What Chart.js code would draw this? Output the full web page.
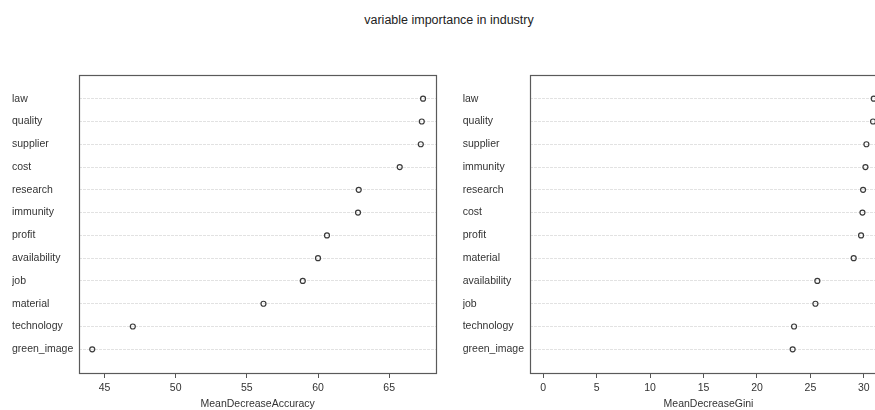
<!DOCTYPE html>
<html>
<head>
<meta charset="utf-8">
<script src="https://cdn.jsdelivr.net/npm/chart.js@4.4.1/dist/chart.umd.min.js"></script>
<style>
    html, body { margin: 0; padding: 0; background: #fff; overflow: hidden; width: 875px; height: 410px; }
    #title { position: absolute; left: 0; top: 13px; width: 898px; text-align: center; font: 12.5px "Liberation Sans", Arial, sans-serif; color: #222; line-height: 14px; }
    .panel { position: absolute; top: 0; height: 410px; }
    #left { left: 0; width: 440px; }
    #right { left: 440px; width: 460px; }
</style>
</head>
<body>
<div id="title">variable importance in industry</div>
<div class="panel" id="left"><canvas id="accChart"></canvas></div>
<div class="panel" id="right"><canvas id="giniChart"></canvas></div>
<script>
// left panel: MeanDecreaseAccuracy
const accVars = ['law', 'quality', 'supplier', 'cost', 'research', 'immunity', 'profit', 'availability', 'job', 'material', 'technology', 'green_image'];
const accValues = [67.38, 67.29, 67.22, 65.74, 62.86, 62.81, 60.63, 60.0, 58.93, 56.17, 46.99, 44.14];
const accTicks = [45, 50, 55, 60, 65];

// right panel: MeanDecreaseGini
const giniVars = ['law', 'quality', 'supplier', 'immunity', 'research', 'cost', 'profit', 'material', 'availability', 'job', 'technology', 'green_image'];
const giniValues = [30.93, 30.86, 30.24, 30.15, 29.93, 29.87, 29.74, 29.05, 25.65, 25.47, 23.47, 23.34];
const giniTicks = [0, 5, 10, 15, 20, 25, 30];

Chart.defaults.font.family = '"Liberation Sans", Arial, sans-serif';
Chart.defaults.font.size = 10.5;
Chart.defaults.color = '#333';

// frame around the plot region, like R's box()
const plotBox = {
    id: 'plotBox',
    afterDraw(chart) {
        const a = chart.chartArea;
        const ctx = chart.ctx;
        ctx.save();
        ctx.strokeStyle = '#5a5a5a';
        ctx.lineWidth = 1.2;
        ctx.strokeRect(Math.round(a.left) + 0.5, Math.round(a.top) + 0.5, Math.round(a.right - a.left), Math.round(a.bottom - a.top));
        ctx.restore();
    }
};

function dotChart(canvasId, vars, values, ticks, xTitle, fromZero, pad, axisWidth) {
    // R style limits: data range stretched by 4%
    let lo = fromZero ? 0 : Math.min(...values);
    let hi = Math.max(...values);
    const ext = (hi - lo) * 0.04;
    lo -= ext;
    hi += ext;
    const n = vars.length;

    return new Chart(document.getElementById(canvasId), {
        type: 'scatter',
        data: {
            datasets: [{
                data: values.map((v, i) => ({ x: v, y: i })),
                pointRadius: 2.5,
                pointHoverRadius: 2.5,
                borderColor: '#3a3a3a',
                backgroundColor: 'rgba(0,0,0,0)',
                borderWidth: 1.2
            }]
        },
        options: {
            responsive: true,
            maintainAspectRatio: false,
            animation: false,
            layout: { padding: { left: pad.left, right: pad.right, top: 75, bottom: 0 } },
            plugins: {
                legend: { display: false },
                tooltip: { enabled: false }
            },
            scales: {
                x: {
                    type: 'linear',
                    min: lo,
                    max: hi,
                    afterBuildTicks: s => { s.ticks = ticks.map(v => ({ value: v })); },
                    afterFit: s => { s.height = 37; },
                    border: { display: false },
                    grid: { drawOnChartArea: false, drawTicks: true, tickLength: 5, tickColor: '#555' },
                    ticks: { padding: 4, maxRotation: 0 },
                    title: { display: true, text: xTitle, padding: 0 }
                },
                y: {
                    type: 'linear',
                    reverse: true,
                    min: -1.04,
                    max: n - 1 + 1.04,
                    afterBuildTicks: s => { s.ticks = vars.map((v, i) => ({ value: i })); },
                    afterFit: s => { s.width = axisWidth; },
                    border: { display: false, dash: [3, 1] },
                    grid: { color: '#e2e2e2', drawTicks: false },
                    ticks: {
                        crossAlign: 'far',
                        padding: 0,
                        callback: value => vars[value]
                    }
                }
            }
        },
        plugins: [plotBox]
    });
}

dotChart('accChart', accVars, accValues, accTicks, 'MeanDecreaseAccuracy', false, { left: 12, right: 3 }, 67);
dotChart('giniChart', giniVars, giniValues, giniTicks, 'MeanDecreaseGini', true, { left: 22.7, right: 13 }, 67.3);
</script>
</body>
</html>
